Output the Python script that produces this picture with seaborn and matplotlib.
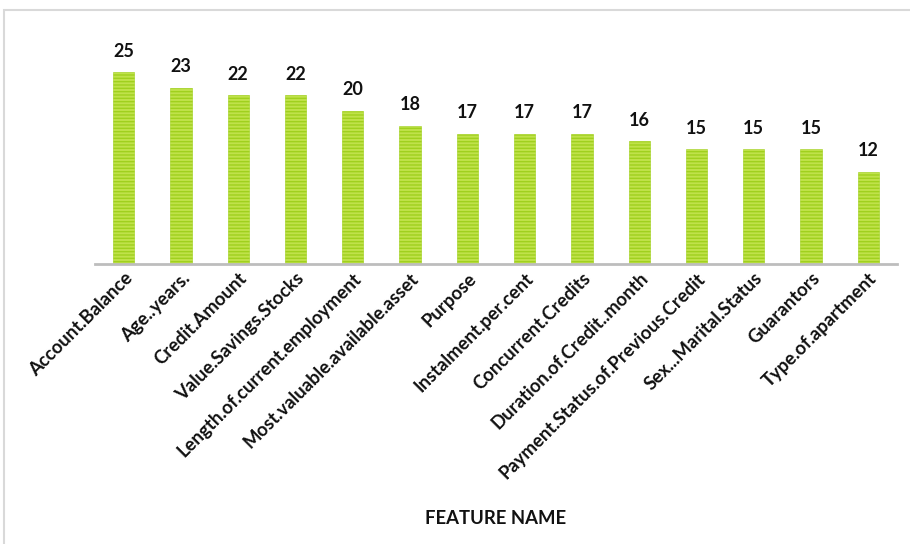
import matplotlib
matplotlib.use("Agg")
import matplotlib.pyplot as plt
import seaborn as sns
import pandas as pd
from matplotlib.patches import Rectangle

features = [
    "Account.Balance", "Age..years.", "Credit.Amount", "Value.Savings.Stocks",
    "Length.of.current.employment", "Most.valuable.available.asset", "Purpose",
    "Instalment.per.cent", "Concurrent.Credits", "Duration.of.Credit..month",
    "Payment.Status.of.Previous.Credit", "Sex...Marital.Status", "Guarantors",
    "Type.of.apartment",
]
importance = [25, 23, 22, 22, 20, 18, 17, 17, 17, 16, 15, 15, 15, 12]

df = pd.DataFrame({"feature": features, "importance": importance})

sns.set_theme(style="white")
plt.rcParams["font.family"] = ["Lato", "DejaVu Sans"]
plt.rcParams["hatch.linewidth"] = 1.0

fig = plt.figure(figsize=(9.10, 5.44), dpi=100)
ax = fig.add_axes([95 / 910, 1 - 264 / 544, 802 / 910, 230 / 544])

sns.barplot(data=df, x="feature", y="importance", ax=ax, color="#c0e24a",
            width=0.37, saturation=1)
for bar in ax.patches:
    bar.set_hatch("-----")
    bar.set_edgecolor("#a0d01e")
    bar.set_linewidth(0.4)

for bar, v in zip(ax.patches, importance):
    ax.annotate(f"{v}", (bar.get_x() + bar.get_width() / 2, bar.get_height()),
                xytext=(0, 9), textcoords="offset points", ha="center", va="bottom",
                fontsize=13, fontweight="bold", color="#111111")

ax.set_xlim(-0.5, len(features) - 0.5)
ax.set_ylim(0, 30)
ax.set_yticks([])
ax.set_ylabel("")
for side in ("top", "right", "left"):
    ax.spines[side].set_visible(False)
ax.spines["bottom"].set_color("#bdbdbd")
ax.spines["bottom"].set_linewidth(2)
ax.tick_params(axis="x", length=0, pad=4)
ax.set_xticks(range(len(features)))
ax.set_xticklabels(features, rotation=45, ha="right", rotation_mode="anchor",
                   fontsize=13.3, fontweight="bold", color="#111111")
ax.set_xlabel("FEATURE NAME", fontsize=13.3, fontweight="bold", color="#111111",
              labelpad=0)
ax.xaxis.set_label_coords(0.5, -246 / 230, transform=ax.transAxes)
ax.patch.set_alpha(0)

# light outer frame
fig.patches.append(Rectangle((4 / 910, -0.05), 1.0, 1 - 10 / 544 + 0.05,
                             transform=fig.transFigure, fill=False,
                             edgecolor="#d9d9d9", linewidth=1.5))

fig.savefig("out.png", dpi=100)
